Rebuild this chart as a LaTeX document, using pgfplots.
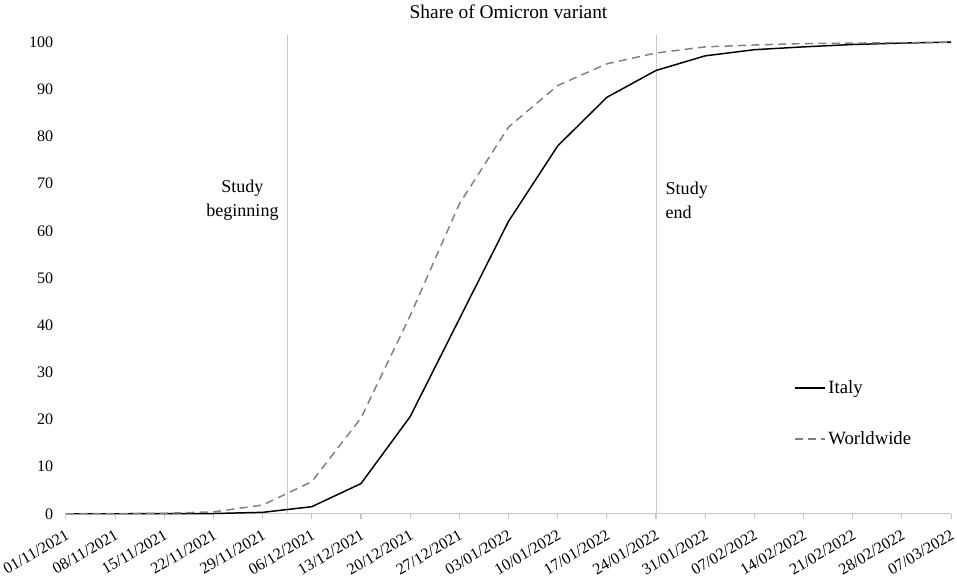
\documentclass[border=0pt]{standalone}
\usepackage{pgfplots}
\pgfplotsset{compat=1.18}
\usepackage{fontspec}
\setmainfont{Liberation Serif}
\definecolor{axgray}{RGB}{200,200,200}
\definecolor{wwgray}{RGB}{128,128,128}
\begin{document}
\begin{tikzpicture}
\begin{axis}[
  scale only axis,
  width=661.5pt, height=357.75pt,
  xmin=0, xmax=18, ymin=0, ymax=101.5,
  axis lines*=left,
  axis line style={-},
  y axis line style={draw=none},
  x axis line style={axgray, line width=0.8pt},
  xtick={0,...,18},
  xticklabels={01/11/2021,08/11/2021,15/11/2021,22/11/2021,29/11/2021,06/12/2021,13/12/2021,20/12/2021,27/12/2021,03/01/2022,10/01/2022,17/01/2022,24/01/2022,31/01/2022,07/02/2022,14/02/2022,21/02/2022,28/02/2022,07/03/2022},
  xtick style={axgray, line width=0.8pt},
  tick align=outside,
  major tick length=4pt,
  ytick={0,10,...,100},
  ytick style={draw=none},
  /pgf/number format/assume math mode=true,
  tick label style={font=\fontsize{12}{14}\selectfont},
  x tick label style={rotate=30, anchor=north east, inner sep=1pt, xshift=-3.5pt, yshift=-5pt},
  y tick label style={xshift=-2pt},
  title={Share of Omicron variant},
  title style={font=\fontsize{14.5}{16}\selectfont, yshift=3pt},
  legend style={draw=none, fill=none, at={(0.822,0.285)}, anchor=north west,
    font=\fontsize{14}{16}\selectfont, row sep=23pt, inner sep=0pt},
  legend cell align=left,
  legend image code/.code={\draw[#1] (0cm,0cm) -- (0.8cm,0cm);},
  clip=false,
]
\addplot[forget plot, axgray, line width=0.6pt] coordinates {(4.5,0) (4.5,101.5)};
\addplot[forget plot, axgray, line width=0.6pt] coordinates {(12,0) (12,101.5)};
\addplot[black, line width=1.1pt] coordinates {
(0,0) (1,0) (2,0.02) (3,0.05) (4,0.3) (5,1.5) (6,6.4) (7,20.6) (8,41.3) (9,62)
(10,78) (11,88.3) (12,94) (13,97.1) (14,98.4) (15,99) (16,99.5) (17,99.8) (18,100)};
\addlegendentry{Italy}
\addplot[wwgray, line width=1.1pt, dash pattern=on 6pt off 4pt] coordinates {
(0,0) (1,0.02) (2,0.1) (3,0.4) (4,1.85) (5,6.8) (6,20.3) (7,42) (8,65.7) (9,82)
(10,90.8) (11,95.4) (12,97.7) (13,99) (14,99.4) (15,99.7) (16,99.8) (17,99.9) (18,100)};
\addlegendentry{Worldwide}
\node[anchor=east, align=center, font=\fontsize{13.5}{18}\selectfont] at (axis cs:4.42,66.5) {Study\\beginning};
\node[anchor=west, align=left, font=\fontsize{13.5}{18}\selectfont] at (axis cs:12.1,66.5) {Study\\end};
\end{axis}
\end{tikzpicture}
\end{document}
